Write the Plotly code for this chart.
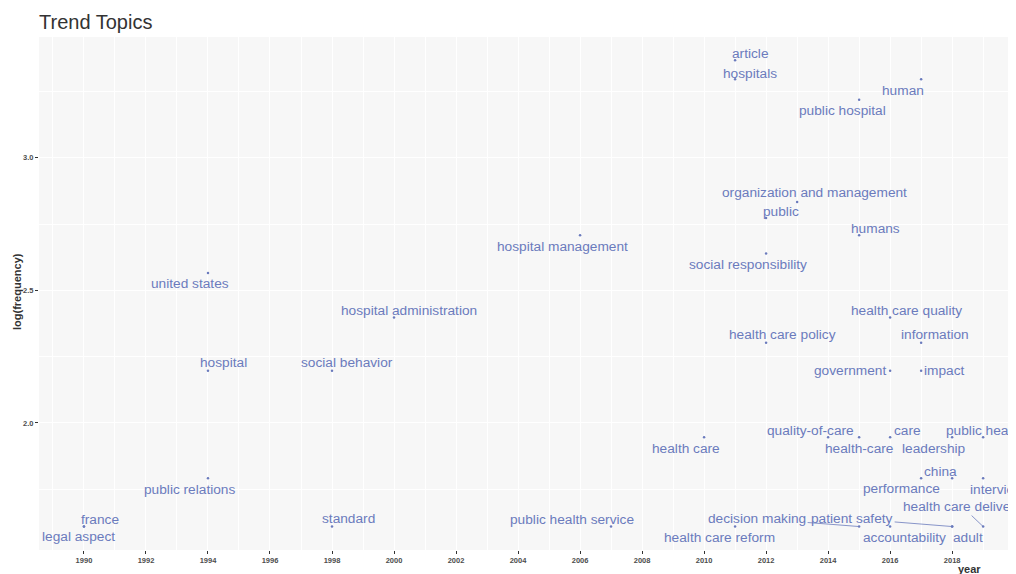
import numpy as np
import plotly.graph_objects as go

# trend topics: term, median year, frequency (plotted as log)
terms = ["article", "hospitals", "human", "public hospital", "organization and management",
         "public", "humans", "social responsibility", "hospital management", "united states",
         "hospital administration", "hospital", "social behavior", "health care quality",
         "health care policy", "information", "government", "impact", "health care",
         "quality-of-care", "health-care", "care", "leadership", "public health", "china",
         "performance", "interview", "public relations", "france", "legal aspect", "standard",
         "public health service", "decision making", "health care reform", "patient safety",
         "accountability", "adult", "health care delivery"]
years = [2011, 2011, 2017, 2015, 2013,
         2012, 2015, 2012, 2006, 1994,
         2000, 1994, 1998, 2016,
         2012, 2017, 2016, 2017, 2010,
         2014, 2015, 2016, 2018, 2019, 2018,
         2017, 2019, 1994, 1990, 1990, 1998,
         2007, 2015, 2011, 2018,
         2016, 2018, 2019]
freq = [29, 27, 27, 25, 17,
        16, 15, 14, 15, 13,
        11, 9, 9, 11,
        10, 10, 9, 9, 7,
        7, 7, 7, 7, 7, 6,
        6, 6, 6, 5, 5, 5,
        5, 5, 5, 5,
        5, 5, 5]

log_freq = np.log(freq)

# label offsets in pixels (dx right, dy down) and whether a repel segment is drawn
label_offsets = {
    "article": (15, -7, False), "hospitals": (15, -6, False), "human": (-18, 11, False),
    "public hospital": (-17, 11, False), "organization and management": (17, -9, False),
    "public": (15, -7, False), "humans": (16, -7, False), "social responsibility": (-18, 11, False),
    "hospital management": (-18, 11, False), "united states": (-18, 10, False),
    "hospital administration": (15, -7, False), "hospital": (16, -8, False),
    "social behavior": (15, -8, False), "health care quality": (16, -7, False),
    "health care policy": (16, -8, False), "information": (14, -8, False),
    "government": (-40, 0, False), "impact": (23, 0, False), "health care": (-18, 11, False),
    "quality-of-care": (-18, -7, False), "health-care": (0, 11, False), "care": (17, -7, False),
    "leadership": (-18, 11, False), "public health": (1, -7, False), "china": (-12, -7, False),
    "performance": (-20, 10, False), "interview": (14, 11, False),
    "public relations": (-18, 11, False), "france": (16, -7, False),
    "legal aspect": (-5, 10, False), "standard": (16, -8, False),
    "public health service": (-39, -7, False), "decision making": (-102, -8, True),
    "health care reform": (-16, 11, False), "patient safety": (-100, -8, True),
    "accountability": (14, 11, False), "adult": (16, 11, False),
    "health care delivery": (-21, -20, True),
}

col = "#6b7bbd"
fig = go.Figure()
fig.add_trace(go.Scatter(x=years, y=log_freq, mode="markers",
                         marker=dict(color=col, size=2.5), hoverinfo="text",
                         text=terms, showlegend=False))

for t, xv, yv in zip(terms, years, log_freq):
    dx, dy, seg = label_offsets[t]
    fig.add_annotation(x=xv, y=yv, xref="x", yref="y", text=t, showarrow=True,
                       ax=dx, ay=dy, arrowhead=0, arrowwidth=0.8,
                       arrowcolor=col if seg else "rgba(0,0,0,0)",
                       font=dict(family="Liberation Sans, Arial", size=13.7, color=col))

fig.add_annotation(text="<b>year</b>", xref="paper", yref="paper", x=0.966, y=-0.037,
                   xanchor="right", yanchor="middle", showarrow=False,
                   font=dict(family="Liberation Sans, Arial", size=11, color="#333333"))
fig.add_annotation(text="<b>log(frequency)</b>", xref="paper", yref="paper", x=-0.0225, y=0.503,
                   xanchor="center", yanchor="middle", showarrow=False, textangle=-90,
                   font=dict(family="Liberation Sans, Arial", size=11, color="#333333"))

# page body has an 8px margin, so the figure is sized to land on the same pixels
fig.update_layout(
    width=1008, height=566,
    margin=dict(l=31, r=0, t=29, b=24),
    paper_bgcolor="white", plot_bgcolor="#f7f7f7",
    title=dict(text="Trend Topics", x=31 / 1008, xanchor="left", y=1 - 14 / 566, yanchor="middle",
               font=dict(family="Liberation Sans, Arial", size=20, color="#333333")),
    font=dict(family="Liberation Sans, Arial"),
)
fig.update_xaxes(range=[1988.55, 2020.06], tickmode="linear", tick0=1990, dtick=2,
                 showgrid=True, gridcolor="white", gridwidth=1.1,
                 minor=dict(tick0=1989, dtick=2, showgrid=True, gridcolor="white", gridwidth=0.6),
                 zeroline=False, ticks="outside", ticklen=3, tickcolor="#333333", tickwidth=0.8,
                 tickfont=dict(size=7.5, color="#4d4d4d", family="Liberation Sans, Arial"),
                 tickprefix="<b>", ticksuffix="</b>", showline=False)
fig.update_yaxes(range=[1.521, 3.455], tickmode="array", tickvals=[2.0, 2.5, 3.0],
                 ticktext=["<b>2.0</b>", "<b>2.5</b>", "<b>3.0</b>"],
                 showgrid=True, gridcolor="white", gridwidth=1.1,
                 minor=dict(tickmode="array", tickvals=[1.75, 2.25, 2.75, 3.25], showgrid=True,
                            gridcolor="white", gridwidth=0.6),
                 zeroline=False, ticks="outside", ticklen=3, tickcolor="#333333", tickwidth=0.8,
                 tickfont=dict(size=7.5, color="#4d4d4d", family="Liberation Sans, Arial"),
                 showline=False)

fig.write_html("out.html")
